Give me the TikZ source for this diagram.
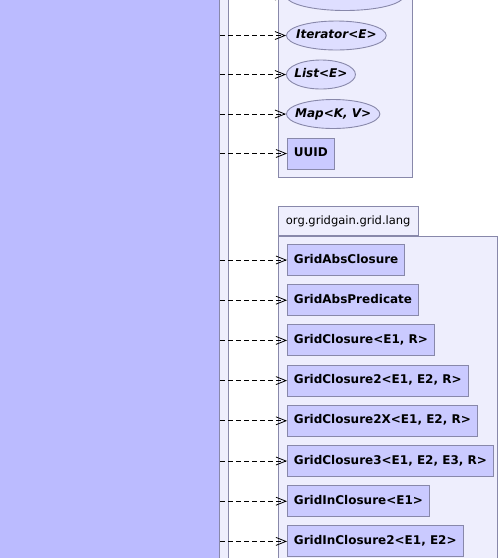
\documentclass[tikz,border=0pt]{standalone}
\usepackage{fontspec}
\setmainfont{DejaVu Sans}
\usetikzlibrary{arrows.meta, positioning, shapes.geometric}
\definecolor{implblue}{RGB}{187,187,255}
\definecolor{pkgfill}{RGB}{238,238,253}
\definecolor{clsfill}{RGB}{202,202,255}
\definecolor{ifacefill}{RGB}{222,222,255}
\definecolor{umlline}{RGB}{136,136,170}
\tikzset{
    umldiagram/.style={x=1pt, y=-1pt, font=\fontsize{12}{14}\selectfont\bfseries},
    classbox/.style={draw=umlline, fill=clsfill, line width=0.9pt, minimum height=31pt, inner xsep=6.5pt, text height=9pt, text depth=3pt},
    iface/.style={ellipse, draw=umlline, fill=ifacefill, line width=0.9pt, minimum height=29pt, minimum width=69pt, inner xsep=-5pt, inner ysep=0pt, text height=9pt, text depth=3pt, font=\fontsize{12}{14}\selectfont\bfseries\itshape},
    pkg/.style={draw=umlline, fill=pkgfill, line width=0.9pt},
    depends/.style={-{Straight Barb[length=10pt, width=8pt]}, dash pattern=on 5pt off 3pt, line width=0.8pt},
}

\begin{document}
\begin{tikzpicture}[umldiagram]
    \useasboundingbox (0,0) rectangle (499,558);
    \clip (0,0) rectangle (499,558);

    % the implementing class, inside its frame
    \fill[pkgfill] (-10,-10) rectangle (228,570);
    \draw[umlline, line width=0.9pt] (228,-10) -- (228,570);
    \node[draw=umlline, fill=implblue, line width=0.9pt, minimum width=230pt, minimum height=580pt, anchor=north east] (impl) at (220,-10) {};

    % packages
    \draw[pkg] (278,-30) rectangle (412,177);
    \draw[pkg] (278,236) rectangle (497.5,580);
    \node[pkg, anchor=south west, minimum height=29pt, inner xsep=7.5pt, font=\fontsize{11.5}{13}\selectfont] (langpkg) at (278,236) {org.gridgain.grid.lang};

    % java.util types
    \node[iface, minimum width=117pt, anchor=west] (coll) at (286,-4) {};
    \node[iface, anchor=west] (iter) at (286,35.5) {Iterator<E>};
    \node[iface, anchor=west] (list) at (286,74.5) {List<E>};
    \node[iface, anchor=west] (map)  at (286,114) {Map<K, V>};
    \node[classbox, anchor=west] (uuid) at (287,153.5) {UUID};

    % grid lang types
    \node[classbox, anchor=west] (absclo) at (287,260) {GridAbsClosure};
    \node[classbox, below right=8.3pt and 0pt of absclo.south west] (abspred) {GridAbsPredicate};
    \node[classbox, below right=8.3pt and 0pt of abspred.south west] (clo) {GridClosure<E1, R>};
    \node[classbox, below right=8.3pt and 0pt of clo.south west] (clotwo) {GridClosure2<E1, E2, R>};
    \node[classbox, below right=8.3pt and 0pt of clotwo.south west] (clotwox) {GridClosure2X<E1, E2, R>};
    \node[classbox, below right=8.3pt and 0pt of clotwox.south west] (clothree) {GridClosure3<E1, E2, E3, R>};
    \node[classbox, below right=8.3pt and 0pt of clothree.south west] (inclo) {GridInClosure<E1>};
    \node[classbox, below right=8.3pt and 0pt of inclo.south west] (inclotwo) {GridInClosure2<E1, E2>};

    \draw[depends] (impl.east |- coll.west) -- (coll.west);
    \draw[depends] (impl.east |- iter.west) -- (iter.west);
    \draw[depends] (impl.east |- list.west) -- (list.west);
    \draw[depends] (impl.east |- map.west) -- (map.west);
    \draw[depends] (impl.east |- uuid.west) -- (uuid.west);
    \draw[depends] (impl.east |- absclo.west) -- (absclo.west);
    \draw[depends] (impl.east |- abspred.west) -- (abspred.west);
    \draw[depends] (impl.east |- clo.west) -- (clo.west);
    \draw[depends] (impl.east |- clotwo.west) -- (clotwo.west);
    \draw[depends] (impl.east |- clotwox.west) -- (clotwox.west);
    \draw[depends] (impl.east |- clothree.west) -- (clothree.west);
    \draw[depends] (impl.east |- inclo.west) -- (inclo.west);
    \draw[depends] (impl.east |- inclotwo.west) -- (inclotwo.west);
\end{tikzpicture}
\end{document}
